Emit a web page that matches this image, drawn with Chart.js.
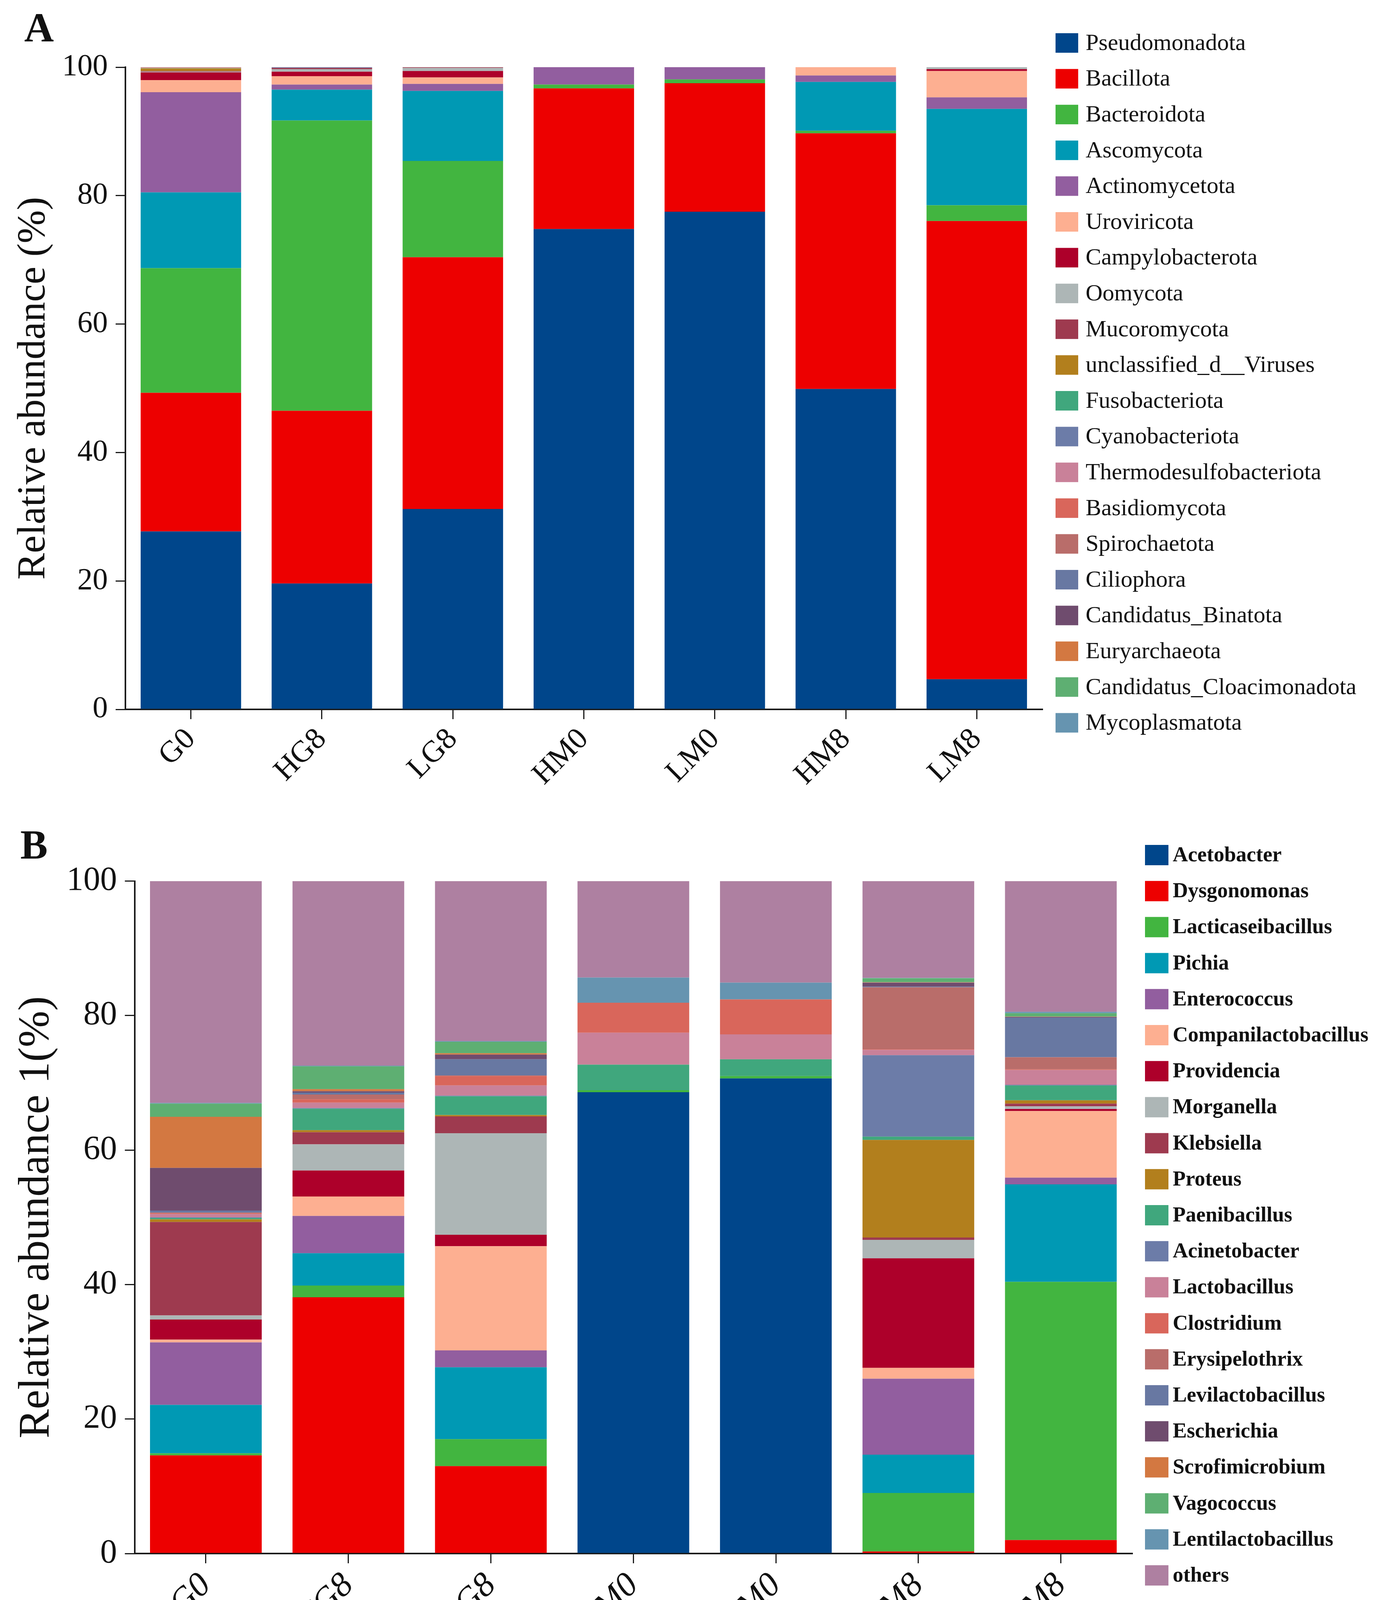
<!DOCTYPE html>
<html>
<head>
<meta charset="utf-8">
<title>Relative abundance</title>
<script src="https://cdn.jsdelivr.net/npm/chart.js@4.4.1/dist/chart.umd.min.js"></script>
<style>
  html, body { margin: 0; padding: 0; background: #fff; }
  #wrap { position: relative; width: 3530px; height: 4239px; background: #fff; }
  canvas { position: absolute; left: 0; }
  #chartA { top: 0; }
  #chartB { top: 2080px; }
</style>
</head>
<body>
<div id="wrap">
  <canvas id="chartA" width="3530" height="2080"></canvas>
  <canvas id="chartB" width="3530" height="2159"></canvas>
</div>
<script>
const groups = ['G0', 'HG8', 'LG8', 'HM0', 'LM0', 'HM8', 'LM8'];
const yTicks = [0, 20, 40, 60, 80, 100];

// A: phylum level (order = bottom of stack first)
const phylumNames = ['Pseudomonadota', 'Bacillota', 'Bacteroidota', 'Ascomycota', 'Actinomycetota',
  'Uroviricota', 'Campylobacterota', 'Oomycota', 'Mucoromycota', 'unclassified_d__Viruses',
  'Fusobacteriota', 'Cyanobacteriota', 'Thermodesulfobacteriota', 'Basidiomycota', 'Spirochaetota',
  'Ciliophora', 'Candidatus_Binatota', 'Euryarchaeota', 'Candidatus_Cloacimonadota', 'Mycoplasmatota'];
const pseudomonadota   = [27.7, 19.6, 31.2, 74.8, 77.5, 49.9, 4.7];
const bacillota        = [21.6, 26.9, 39.2, 21.9, 20.0, 39.8, 71.35];
const bacteroidota     = [19.4, 45.2, 15.0, 0.6, 0.6, 0.4, 2.45];
const ascomycota       = [11.8, 4.8, 10.9, 0, 0, 7.6, 15.0];
const actinomycetota   = [15.6, 0.8, 1.1, 2.7, 1.9, 1.0, 1.8];
const uroviricota      = [1.9, 1.3, 1.0, 0, 0, 1.3, 4.1];
const campylobacterota = [1.2, 0.7, 1.0, 0, 0, 0, 0.3];
const oomycota         = [0.1, 0.4, 0.5, 0, 0, 0, 0.3];
const mucoromycota     = [0.1, 0.2, 0.1, 0, 0, 0, 0];
const unclassViruses   = [0.4, 0, 0, 0, 0, 0, 0];
const fusobacteriota   = [0.05, 0, 0, 0, 0, 0, 0];
const cyanobacteriota  = [0, 0.1, 0, 0, 0, 0, 0];
const thermodesulfo    = [0.05, 0, 0, 0, 0, 0, 0];
const basidiomycota    = [0.05, 0, 0, 0, 0, 0, 0];
const spirochaetota    = [0.05, 0, 0, 0, 0, 0, 0];
const ciliophora       = [0, 0, 0, 0, 0, 0, 0];
const binatota         = [0, 0, 0, 0, 0, 0, 0];
const euryarchaeota    = [0, 0, 0, 0, 0, 0, 0];
const cloacimonadota   = [0, 0, 0, 0, 0, 0, 0];
const mycoplasmatota   = [0, 0, 0, 0, 0, 0, 0];
const phylumValues = [pseudomonadota, bacillota, bacteroidota, ascomycota, actinomycetota,
  uroviricota, campylobacterota, oomycota, mucoromycota, unclassViruses, fusobacteriota,
  cyanobacteriota, thermodesulfo, basidiomycota, spirochaetota, ciliophora, binatota,
  euryarchaeota, cloacimonadota, mycoplasmatota];

// B: genus level
const genusNames = ['Acetobacter', 'Dysgonomonas', 'Lacticaseibacillus', 'Pichia', 'Enterococcus',
  'Companilactobacillus', 'Providencia', 'Morganella', 'Klebsiella', 'Proteus', 'Paenibacillus',
  'Acinetobacter', 'Lactobacillus', 'Clostridium', 'Erysipelothrix', 'Levilactobacillus',
  'Escherichia', 'Scrofimicrobium', 'Vagococcus', 'Lentilactobacillus', 'others'];
const acetobacter       = [0, 0, 0, 68.6, 70.65, 0, 0];
const dysgonomonas      = [14.6, 38.1, 13.0, 0, 0, 0.3, 2.0];
const lacticaseibac     = [0.3, 1.75, 4.0, 0.3, 0.35, 8.7, 38.4];
const pichia            = [7.2, 4.8, 10.7, 0, 0, 5.7, 14.5];
const enterococcus      = [9.3, 5.55, 2.5, 0, 0, 11.3, 1.0];
const companilacto      = [0.4, 2.9, 15.5, 0, 0, 1.6, 9.9];
const providencia       = [3.0, 3.85, 1.7, 0, 0, 16.3, 0.3];
const morganella        = [0.6, 3.9, 15.1, 0, 0, 2.75, 0.4];
const klebsiella        = [13.9, 1.8, 2.5, 0, 0, 0.35, 0.4];
const proteus           = [0.4, 0.3, 0.2, 0, 0, 14.5, 0.5];
const paenibacillus     = [0.2, 3.2, 2.8, 3.8, 2.5, 0.5, 2.2];
const acinetobacter     = [0.1, 0.1, 0.1, 0, 0, 12.1, 0.1];
const lactobacillus     = [0.5, 0.8, 1.5, 4.75, 3.7, 0.8, 2.2];
const clostridium       = [0.1, 0.5, 1.4, 4.45, 5.2, 0.1, 0.1];
const erysipelothrix    = [0.1, 0.7, 0.1, 0, 0, 9.2, 1.8];
const levilacto         = [0.3, 0.3, 2.4, 0, 0, 0.1, 5.9];
const escherichia       = [6.35, 0.2, 0.7, 0, 0, 0.6, 0.1];
const scrofimicrobium   = [7.6, 0.3, 0.2, 0, 0, 0.05, 0.05];
const vagococcus        = [1.95, 3.4, 1.7, 0, 0, 0.6, 0.5];
const lentilacto        = [0.1, 0.1, 0.1, 3.75, 2.5, 0.05, 0.2];
const otherGenera       = [33.0, 27.45, 23.8, 14.35, 15.1, 14.4, 19.45];
const genusValues = [acetobacter, dysgonomonas, lacticaseibac, pichia, enterococcus, companilacto,
  providencia, morganella, klebsiella, proteus, paenibacillus, acinetobacter, lactobacillus,
  clostridium, erysipelothrix, levilacto, escherichia, scrofimicrobium, vagococcus, lentilacto,
  otherGenera];

// shared palette, one colour per legend row
const palette = ['#00468B', '#ED0000', '#42B540', '#0099B4', '#925E9F', '#FDAF91', '#AD002A',
  '#ADB6B6', '#9E3A4F', '#B27F1D', '#40A77D', '#6C7CA8', '#C98199', '#D9665B', '#B96D6A',
  '#6878A2', '#6F4C6E', '#D37841', '#5EAF72', '#6694B0', '#AE80A1'];

const serif = "'Liberation Serif', 'Times New Roman', serif";
const axisColor = '#1a1a1a';

// legend + panel letter drawn beside the plot
const sideLegend = {
    id: 'sideLegend',
    afterDraw(chart, args, o) {
        const ctx = chart.ctx;
        ctx.save();
        ctx.textBaseline = 'middle';
        ctx.textAlign = 'left';
        ctx.font = o.font;
        chart.data.datasets.forEach((ds, i) => {
            const cy = o.y + i * o.gap;
            ctx.fillStyle = ds.backgroundColor;
            ctx.fillRect(o.x, cy - o.boxH / 2, o.boxW, o.boxH);
            ctx.fillStyle = '#111';
            ctx.fillText(ds.label, o.textX, cy + 2);
        });
        ctx.textBaseline = 'alphabetic';
        ctx.font = 'bold 105px ' + serif;
        ctx.fillText(o.letter, o.letterX, o.letterY);
        ctx.restore();
    }
};

function makePanel(id, names, values, s) {
    const datasets = names.map((name, i) => ({
        label: name,
        data: values[i],
        backgroundColor: palette[i],
        borderWidth: 0,
        barPercentage: s.barPct,
        categoryPercentage: 1.0
    }));
    return new Chart(document.getElementById(id), {
        type: 'bar',
        data: { labels: groups, datasets: datasets },
        plugins: [sideLegend],
        options: {
            responsive: false,
            animation: false,
            devicePixelRatio: 1,
            layout: { padding: s.padding },
            plugins: {
                legend: { display: false },
                tooltip: { enabled: false },
                sideLegend: s.legend
            },
            scales: {
                x: {
                    stacked: true,
                    afterFit: (scale) => { scale.height = s.xHeight; },
                    grid: { drawOnChartArea: false, offset: false, tickLength: 25, color: axisColor, lineWidth: 3 },
                    border: { color: axisColor, width: 4 },
                    ticks: {
                        color: '#111',
                        minRotation: 45,
                        maxRotation: 45,
                        padding: 6,
                        font: { family: serif, size: s.xSize, style: s.xStyle }
                    }
                },
                y: {
                    stacked: true,
                    min: 0,
                    max: 100,
                    afterFit: (scale) => { scale.width = s.yWidth; },
                    afterBuildTicks: (scale) => { scale.ticks = yTicks.map(v => ({ value: v })); },
                    grid: { drawOnChartArea: false, tickLength: 25, color: axisColor, lineWidth: 3 },
                    border: { color: axisColor, width: 4 },
                    ticks: {
                        color: '#111',
                        padding: 20,
                        font: { family: serif, size: s.tickSize }
                    },
                    title: {
                        display: true,
                        text: s.yTitle,
                        color: '#111',
                        padding: { top: s.titlePad, bottom: 0 },
                        font: { family: serif, size: s.titleSize }
                    }
                }
            }
        }
    });
}

makePanel('chartA', phylumNames, phylumValues, {
    yTitle: 'Relative abundance (%)',
    titleSize: 102, titlePad: 26,
    tickSize: 78, xSize: 78, xStyle: 'normal',
    barPct: 0.767,
    padding: { left: 0, right: 862, top: 172, bottom: 34 },
    yWidth: 321, xHeight: 230,
    legend: { x: 2702, y: 110, boxW: 58, boxH: 50, gap: 91.6, textX: 2779,
              font: '60px ' + serif, letter: 'A', letterX: 62, letterY: 106 }
});

makePanel('chartB', genusNames, genusValues, {
    yTitle: 'Relative abundance 1(%)',
    titleSize: 112, titlePad: 27,
    tickSize: 86, xSize: 88, xStyle: 'italic',
    barPct: 0.784,
    padding: { left: 0, right: 632, top: 175.5, bottom: 32 },
    yWidth: 344.6, xHeight: 230,
    legend: { x: 2931, y: 109, boxW: 60, boxH: 52, gap: 92.2, textX: 3002,
              font: 'bold 54px ' + serif, letter: 'B', letterX: 52, letterY: 118 }
});
</script>
</body>
</html>
